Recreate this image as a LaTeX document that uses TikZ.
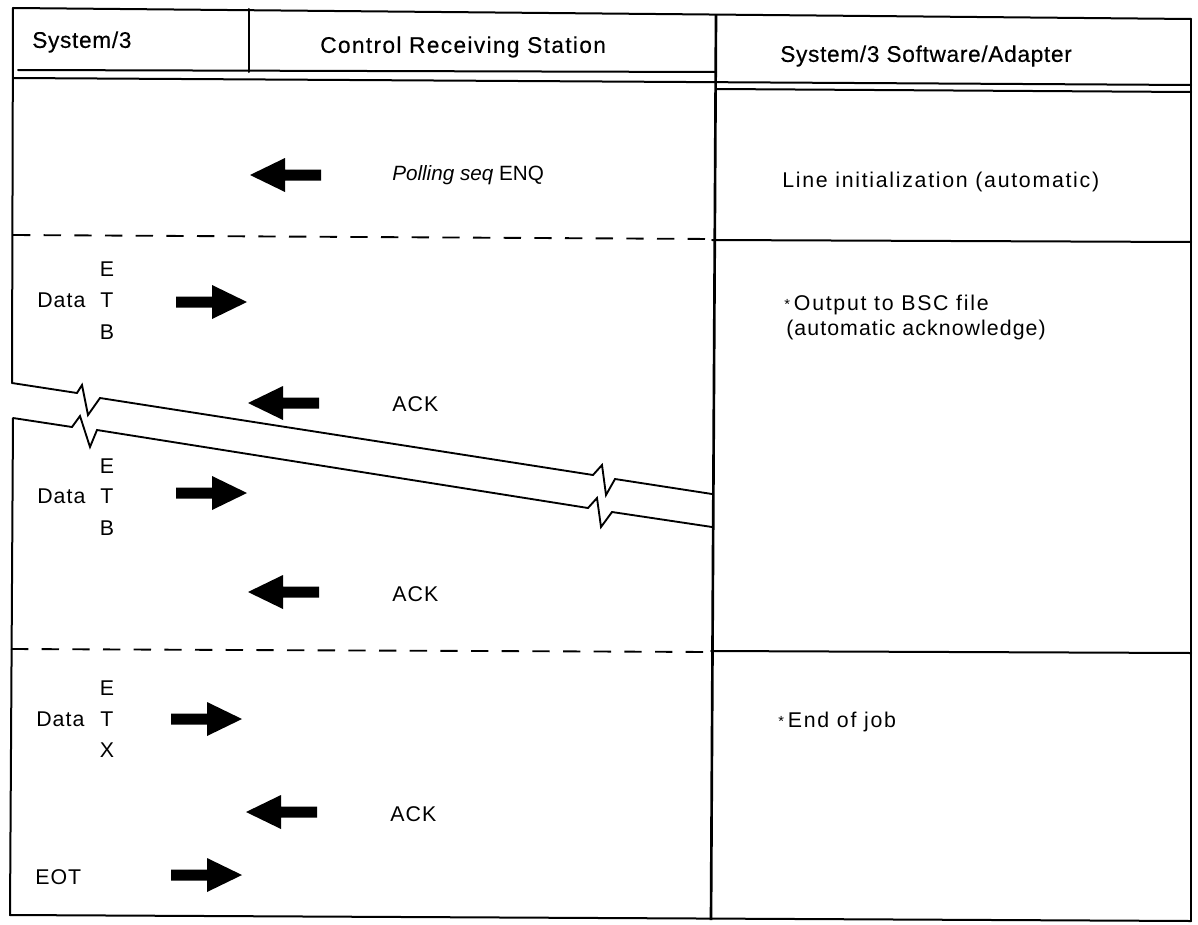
\documentclass[tikz,border=0pt]{standalone}
\usepackage{fontspec}
\setmainfont{Liberation Sans}
\newfontfamily\bodyff[LetterSpace=5]{Liberation Sans}
\newfontfamily\wideff[LetterSpace=8]{Liberation Sans}
\newfontfamily\pollff{Liberation Sans}
\newfontfamily\hdrff[LetterSpace=3,FakeBold=0.4]{Liberation Sans}
\newfontfamily\hdrwideff[LetterSpace=6,FakeBold=0.4]{Liberation Sans}
\newcommand{\bodyfnt}{\bodyff\fontsize{16}{19}\selectfont}
\newcommand{\widefnt}{\wideff\fontsize{16}{19}\selectfont}
\newcommand{\pollfnt}{\pollff\fontsize{15.5}{19}\selectfont}
\newcommand{\hdrfnt}{\hdrff\fontsize{17}{20}\selectfont}
\newcommand{\hdrwidefnt}{\hdrwideff\fontsize{17}{20}\selectfont}
\newcommand{\smallstar}{{\fontsize{11}{11}\selectfont\raisebox{1pt}{*}}\hspace{3pt}}
\tikzset{
  frame/.style={line width=1.5pt, line cap=round, line join=round},
  brk/.style={line width=1.4pt, line join=miter},
  dashsep/.style={line width=1.4pt, dash pattern=on 13pt off 10pt},
  txt/.style={font=\bodyfnt, anchor=west, inner sep=0pt},
  widetxt/.style={font=\widefnt, anchor=west, inner sep=0pt},
  hdr/.style={font=\hdrfnt, anchor=west, inner sep=0pt},
  letter/.style={font=\bodyfnt, inner sep=0pt},
  rarrow/.pic={\fill (-71,-5.5) -- (-35,-5.5) -- (-35,-17) -- (0,0) -- (-35,17) -- (-35,5.5) -- (-71,5.5) -- cycle;},
  larrow/.pic={\fill (71,-5.5) -- (35,-5.5) -- (35,-17) -- (0,0) -- (35,17) -- (35,5.5) -- (71,5.5) -- cycle;},
}
\begin{document}
\begin{tikzpicture}[x=0.75pt,y=-0.75pt]
\useasboundingbox (0,0) rectangle (1198,924);
% outer frame and column lines
\draw[frame] (13,8) -- (1191,19);
\draw[frame] (1191,19) -- (1191,921);
\draw[frame] (10,915) -- (1191,921);
\draw[frame] (13,8) -- (12,383);
\draw[frame] (13,418) -- (10,915);
\draw[frame] (249,9) -- (249,72);
\draw[line width=2pt] (716,15) -- (711,920);
% header bottom lines
\draw[frame] (18,70) -- (716,72);
\draw[frame] (13,78) -- (1191,85);
\draw[frame] (716,89) -- (1191,92);
% row separators
\draw[dashsep] (13,235) -- (712,239);
\draw[frame] (712,240) -- (1191,242);
\draw[dashsep] (11,649) -- (711,652);
\draw[frame] (711,651) -- (1191,653);
% break lines
\draw[brk] (12,383) -- (77,393) -- (82,385) -- (88,415) -- (100,398) -- (593,475) -- (602,465) -- (606,495) -- (615,479) -- (712,494);
\draw[brk] (13,418) -- (72,427) -- (80,416) -- (90,447) -- (97,430) -- (588,508) -- (597,498) -- (601,527) -- (612,512) -- (712,527);
% header texts
\node[hdr] (h1) at (32,42) {System/3};
\node[hdr, font=\hdrwidefnt] (h2) at (320,47) {Control Receiving Station};
\node[hdr] (h3) at (780,56) {System/3 Software/Adapter};
% row 1
\pic (p1) at (250,175) {larrow};
\node[txt, font=\pollfnt] (poll) at (392,175) {\textit{Polling seq} ENQ};
\node[widetxt] (init) at (782,182) {Line initialization (automatic)};
% row 2
\node[txt] (d1) at (37,300) {Data};
\node[letter] (e1) at (107,269) {E};
\node[letter] (t1) at (107,300) {T};
\node[letter] (b1) at (107,332) {B};
\pic (a1) at (247,302) {rarrow};
\pic (a2) at (248,403) {larrow};
\node[txt] (ack1) at (392,404) {ACK};
\node[txt] (d2) at (37,496) {Data};
\node[letter] (e2) at (107,466) {E};
\node[letter] (t2) at (107,496) {T};
\node[letter] (b2) at (107,528) {B};
\pic (a3) at (247,493) {rarrow};
\pic (a4) at (248,592) {larrow};
\node[txt] (ack2) at (392,594) {ACK};
\node[widetxt] (out1) at (784,305) {\smallstar Output to BSC file};
\node[txt] (out2) at (786,330) {(automatic acknowledge)};
% row 3
\node[txt] (d3) at (36,719) {Data};
\node[letter] (e3) at (107,688) {E};
\node[letter] (t3) at (107,719) {T};
\node[letter] (x3) at (107,750) {X};
\pic (a5) at (242,719) {rarrow};
\pic (a6) at (246,812) {larrow};
\node[txt] (ack3) at (390,814) {ACK};
\node[txt] (eot) at (35,877) {EOT};
\pic (a7) at (242,875) {rarrow};
\node[widetxt] (end) at (778,722) {\smallstar End of job};
\end{tikzpicture}
\end{document}
